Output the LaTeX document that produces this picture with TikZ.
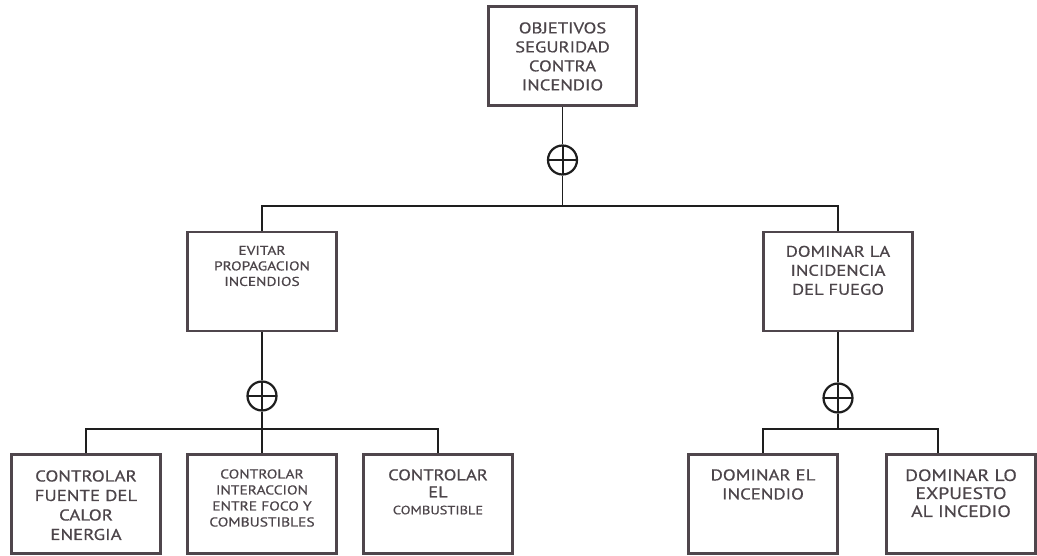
\documentclass[tikz,border=0pt]{standalone}
\usepackage{fontspec}
\setmainfont{PT Sans}[FakeStretch=1.2, FakeBold=0.6]
\usetikzlibrary{positioning}
\definecolor{boxline}{HTML}{4F464C}
\definecolor{textgray}{HTML}{4C454A}
\definecolor{wire}{HTML}{1E1E1E}
\tikzset{
    goal/.style={draw=boxline, line width=2.8pt, minimum width=148.5pt, minimum height=99pt, inner sep=0pt},
    goaltext/.style 2 args={anchor=north, align=center, inner sep=0pt, text=textgray, font=\fontsize{#1}{#2}\selectfont},
    wire/.style={draw=wire, line width=1.8pt},
    orgate/.style={circle, draw=wire, line width=2.2pt, minimum size=29pt, inner sep=0pt,
        path picture={\draw[wire, line width=2pt] (path picture bounding box.west) -- (path picture bounding box.east)
            (path picture bounding box.north) -- (path picture bounding box.south);}}
}
\begin{document}
\begin{tikzpicture}[x=1pt, y=-1pt]
    \useasboundingbox (0,0) rectangle (1037,556);
    % boxes
    \node[goal] (obj) at (562.5,56) {};
    \node[goal] (m1) at (262,281.5) {};
    \node[goal] (m2) at (838,281.5) {};
    \node[goal] (e1) at (86,504) {};
    \node[goal] (e2) at (262,504) {};
    \node[goal] (e3) at (438,504) {};
    \node[goal] (e4) at (763,504) {};
    \node[goal] (e5) at (961,504) {};
    % texts
    \node[goaltext={15.5}{19}, below=17pt of obj.north] (objT) {OBJETIVOS\\SEGURIDAD\\CONTRA\\INCENDIO};
    \node[goaltext={12.8}{15.5}, below=15pt of m1.north] (m1T) {EVITAR\\PROPAGACION\\INCENDIOS};
    \node[goaltext={15.4}{19}, below=15pt of m2.north] (m2T) {DOMINAR LA\\INCIDENCIA\\DEL FUEGO};
    \node[goaltext={15.7}{19.5}, below=17pt of e1.north] (e1T) {CONTROLAR\\FUENTE DEL\\CALOR\\ENERGIA};
    \node[goaltext={12.9}{16}, below=16pt of e2.north] (e2T) {CONTROLAR\\INTERACCION\\ENTRE FOCO Y\\COMBUSTIBLES};
    \node[goaltext={15.4}{17}, below=16pt of e3.north] (e3T) {CONTROLAR\\EL\\{\fontsize{12}{17}\selectfont COMBUSTIBLE}};
    \node[goaltext={15.6}{19}, below=16pt of e4.north] (e4T) {DOMINAR EL\\INCENDIO};
    \node[goaltext={16.4}{18}, below=16pt of e5.north] (e5T) {DOMINAR LO\\EXPUESTO\\AL INCEDIO};
    % gates and junctions
    \node[orgate] (or1) at (562.5,160) {};
    \node[orgate] (or2) at (262,396) {};
    \node[orgate] (or3) at (838,398) {};
    \coordinate (j1) at (562.5,206);
    \coordinate (j2) at (262,429);
    \coordinate (j3) at (838,429);
    % connectors
    \draw[wire] (obj) -- (or1);
    \draw[wire] (or1) -- (j1);
    \draw[wire] (m1.north) |- (j1) -| (m2.north);
    \draw[wire] (m1) -- (or2);
    \draw[wire] (or2) -- (j2);
    \draw[wire] (e1.north) |- (j2) -| (e3.north);
    \draw[wire] (j2) -- (e2.north);
    \draw[wire] (m2) -- (or3);
    \draw[wire] (or3) -- (j3);
    \draw[wire] (e4.north) |- (j3) -| ([xshift=-23pt]e5.north);
\end{tikzpicture}
\end{document}
